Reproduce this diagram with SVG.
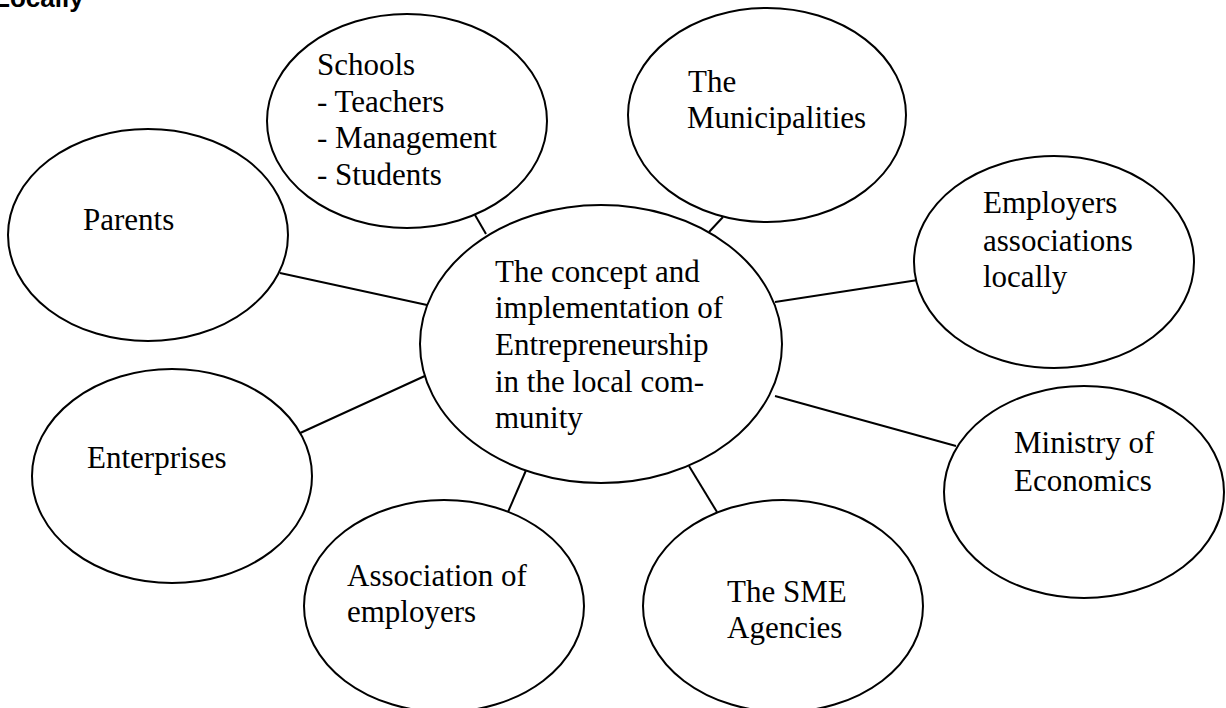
<svg xmlns="http://www.w3.org/2000/svg" width="1226" height="708" viewBox="0 0 1226 708">
<style>
.n ellipse{fill:#fff;stroke:#000;stroke-width:2}
.n text{font-family:"Liberation Serif","Times New Roman",serif;font-size:31px;fill:#000}
#connectors line{stroke:#000;stroke-width:2}
.title{font-family:"Liberation Sans",Arial,sans-serif;font-weight:bold;font-size:26px;fill:#000}
</style>
<rect width="1226" height="708" fill="#fff"/>
<text class="title" x="-6" y="7">Locally</text>
<g id="connectors">
<line x1="475" y1="215" x2="486" y2="234"/>
<line x1="723" y1="217" x2="709" y2="232"/>
<line x1="280" y1="273" x2="427" y2="305"/>
<line x1="775" y1="302" x2="918" y2="280"/>
<line x1="298" y1="434" x2="427" y2="375"/>
<line x1="775" y1="396" x2="956" y2="446"/>
<line x1="527" y1="468" x2="508" y2="512"/>
<line x1="689" y1="466" x2="717" y2="512"/>
</g>
<g id="schools" class="n">
<ellipse cx="407" cy="121" rx="140" ry="107"/>
<text x="317" y="75">Schools</text>
<text x="317" y="112">- Teachers</text>
<text x="317" y="148">- Management</text>
<text x="317" y="185">- Students</text>
</g>
<g id="municipalities" class="n">
<ellipse cx="767" cy="115" rx="139" ry="107"/>
<text x="688" y="92">The</text>
<text x="687" y="128">Municipalities</text>
</g>
<g id="parents" class="n">
<ellipse cx="148" cy="235" rx="140" ry="106"/>
<text x="83" y="230">Parents</text>
</g>
<g id="employers-local" class="n">
<ellipse cx="1054" cy="262" rx="140" ry="106"/>
<text x="983" y="213">Employers</text>
<text x="983" y="251">associations</text>
<text x="983" y="287">locally</text>
</g>
<g id="center" class="n">
<ellipse cx="601" cy="344" rx="181" ry="139"/>
<text x="495" y="282">The concept and</text>
<text x="495" y="318">implementation of</text>
<text x="495" y="355">Entrepreneurship</text>
<text x="495" y="392">in the local com-</text>
<text x="495" y="428">munity</text>
</g>
<g id="enterprises" class="n">
<ellipse cx="172" cy="476" rx="140" ry="107"/>
<text x="87" y="468">Enterprises</text>
</g>
<g id="ministry" class="n">
<ellipse cx="1084" cy="492" rx="140" ry="106"/>
<text x="1014" y="453">Ministry of</text>
<text x="1014" y="491">Economics</text>
</g>
<g id="association" class="n">
<ellipse cx="444" cy="606" rx="140" ry="106"/>
<text x="347" y="586">Association of</text>
<text x="347" y="622">employers</text>
</g>
<g id="sme" class="n">
<ellipse cx="783" cy="606" rx="140" ry="106"/>
<text x="727" y="602">The SME</text>
<text x="727" y="638">Agencies</text>
</g>
</svg>
